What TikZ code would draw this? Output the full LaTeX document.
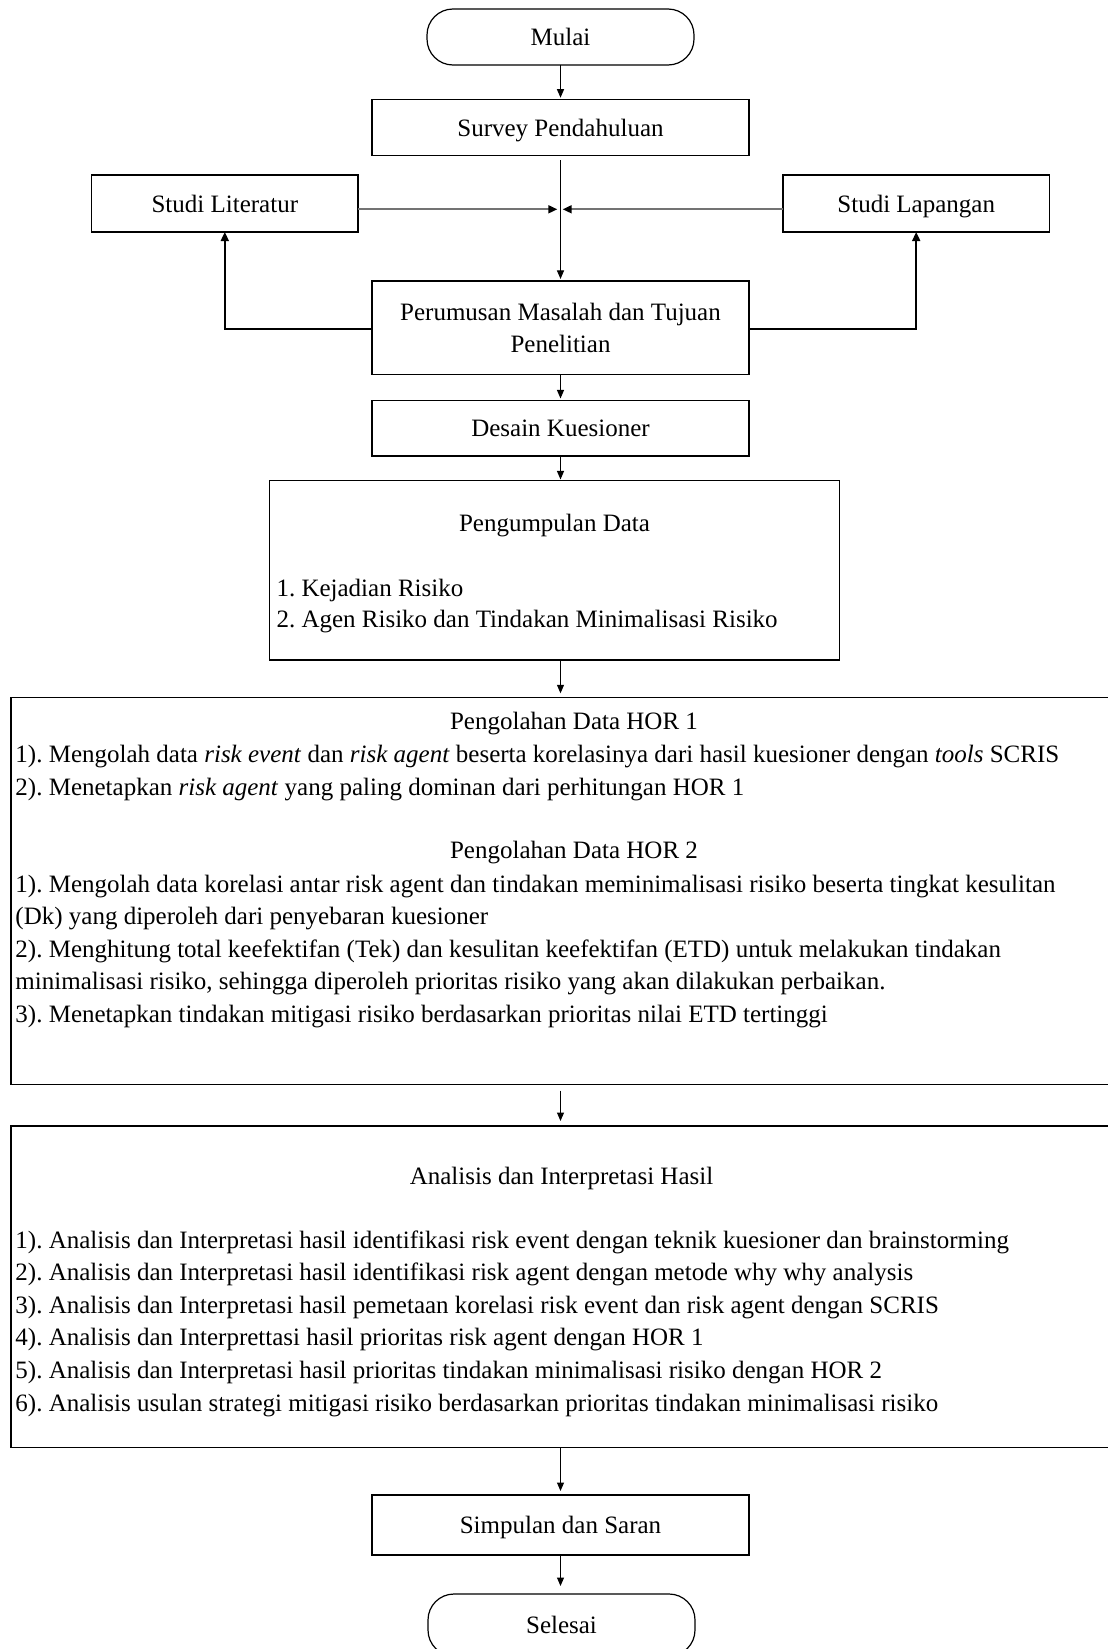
\documentclass[tikz,border=0pt]{standalone}
\usepackage{fontspec}
\setmainfont{Liberation Serif}
\usetikzlibrary{arrows.meta}
\begin{document}
\frenchspacing
\begin{tikzpicture}[x=1pt,y=-1pt,
  font=\fontsize{25}{32.6}\selectfont\frenchspacing,
  boxplain/.style={draw=black, line width=1.2pt, inner sep=0pt, outer sep=0pt},
  box/.style={boxplain, text height=19pt, text depth=2pt},
  term/.style={box, rounded corners=26pt},
  txt/.style={anchor=base west, inner sep=0pt, outer sep=0pt},
  ttl/.style={anchor=base, inner sep=0pt, outer sep=0pt},
  arr/.style={draw=black, line width=1pt, -{Triangle[length=8.5pt,width=7pt]}},
  harr/.style={draw=black!55, line width=1.7pt, -{Triangle[length=9pt,width=8pt,color=black]}},
  sarr/.style={draw=black, line width=1.7pt, -{Triangle[length=9pt,width=8pt]}},
]
\useasboundingbox (0,0) rectangle (1108,1649);
\fill[white] (0,0) rectangle (1108,1649);
\clip (0,0) rectangle (1108,1649);

% main chain
\node[term, minimum width=267pt, minimum height=56pt] (mulai) at (560.5,37) {Mulai};
\node[box, minimum width=377pt, minimum height=56pt] (survey) at (560.5,127.7) {Survey Pendahuluan};
\node[box, minimum width=266.5pt, minimum height=57pt] (lit) at (224.8,203.5) {Studi Literatur};
\node[box, minimum width=266.5pt, minimum height=57pt] (lap) at (916.2,203.5) {Studi Lapangan};
\node[boxplain, minimum width=377pt, minimum height=93.5pt, align=center] (rumus) at (560.5,327.7) {Perumusan Masalah dan Tujuan\\[-1pt]Penelitian};
\node[box, minimum width=377pt, minimum height=55.5pt] (desain) at (560.5,428.2) {Desain Kuesioner};

% Pengumpulan Data
\node[boxplain, minimum width=570pt, minimum height=179.5pt] (kumpul) at (554.5,570.2) {};
\node[ttl] (kumpulT) at (554.5,531) {Pengumpulan Data};
\node[txt] (k1) at (276.5,596) {1. Kejadian Risiko};
\node[txt] (k2) at (276.5,627) {2. Agen Risiko dan Tindakan Minimalisasi Risiko};

% Pengolahan Data HOR
\node[boxplain, minimum width=1129pt, minimum height=387.2pt] (hor) at (575.5,890.9) {};
\node[ttl] (horT1) at (574,729.5) {Pengolahan Data HOR 1};
\node[txt] (h1) at (15.5,762) {1). Mengolah data \textit{risk event} dan \textit{risk agent} beserta korelasinya dari hasil kuesioner dengan \textit{tools} SCRIS};
\node[txt] (h2) at (15.5,795) {2). Menetapkan \textit{risk agent} yang paling dominan dari perhitungan HOR 1};
\node[ttl] (horT2) at (574,858) {Pengolahan Data HOR 2};
\node[txt] (h3) at (15.5,892.3) {1). Mengolah data korelasi antar risk agent dan tindakan meminimalisasi risiko beserta tingkat kesulitan};
\node[txt] (h4) at (15.5,924.8) {(Dk) yang diperoleh dari penyebaran kuesioner};
\node[txt] (h5) at (15.5,957.3) {2). Menghitung total keefektifan (Tek) dan kesulitan keefektifan (ETD) untuk melakukan tindakan};
\node[txt] (h6) at (15.5,989.8) {minimalisasi risiko, sehingga diperoleh prioritas risiko yang akan dilakukan perbaikan.};
\node[txt] (h7) at (15.5,1022.4) {3). Menetapkan tindakan mitigasi risiko berdasarkan prioritas nilai ETD tertinggi};

% Analisis
\node[boxplain, minimum width=1129pt, minimum height=321.5pt] (anal) at (575.5,1286.75) {};
\node[ttl] (analT) at (561.5,1184) {Analisis dan Interpretasi Hasil};
\node[txt] (a1) at (15.5,1248) {1). Analisis dan Interpretasi hasil identifikasi risk event dengan teknik kuesioner dan brainstorming};
\node[txt] (a2) at (15.5,1280.6) {2). Analisis dan Interpretasi hasil identifikasi risk agent dengan metode why why analysis};
\node[txt] (a3) at (15.5,1313.2) {3). Analisis dan Interpretasi hasil pemetaan korelasi risk event dan risk agent dengan SCRIS};
\node[txt] (a4) at (15.5,1345.8) {4). Analisis dan Interprettasi hasil prioritas risk agent dengan HOR 1};
\node[txt] (a5) at (15.5,1378.4) {5). Analisis dan Interpretasi hasil prioritas tindakan minimalisasi risiko dengan HOR 2};
\node[txt] (a6) at (15.5,1411) {6). Analisis usulan strategi mitigasi risiko berdasarkan prioritas tindakan minimalisasi risiko};

\node[box, minimum width=377pt, minimum height=60pt] (simpul) at (560.5,1525) {Simpulan dan Saran};
\node[term, minimum width=267pt, minimum height=62pt] (selesai) at (561.5,1625) {Selesai};

% connectors
\coordinate (jL) at (557.3,209.3);
\coordinate (jR) at (562.7,209.3);
\coordinate (rL) at (224.8,328.7);
\coordinate (rR) at (916.2,328.7);

\draw[arr, shorten >=2pt] (mulai.south) -- (survey.north);
\draw[arr, shorten <=4.5pt, shorten >=2pt] (survey.south) -- (rumus.north);
\draw[harr] (lit.east |- jL) -- (jL);
\draw[harr] (lap.west |- jR) -- (jR);
\draw[sarr] (rumus.west |- rL) -- (rL) -- (lit.south);
\draw[sarr] (rumus.east |- rR) -- (rR) -- (lap.south);
\draw[arr, shorten >=2pt] (rumus.south) -- (desain.north);
\draw[arr, shorten >=1pt] (desain.south) -- (desain.south |- kumpul.north);
\draw[arr, shorten >=4pt] (desain.south |- kumpul.south) -- (desain.south |- hor.north);
\draw[arr, shorten <=6pt, shorten >=5pt] (desain.south |- hor.south) -- (desain.south |- anal.north);
\draw[arr, shorten >=4pt] (simpul.north |- anal.south) -- (simpul.north);
\draw[arr, shorten >=8pt] (simpul.south) -- (simpul.south |- selesai.north);
\end{tikzpicture}
\end{document}
